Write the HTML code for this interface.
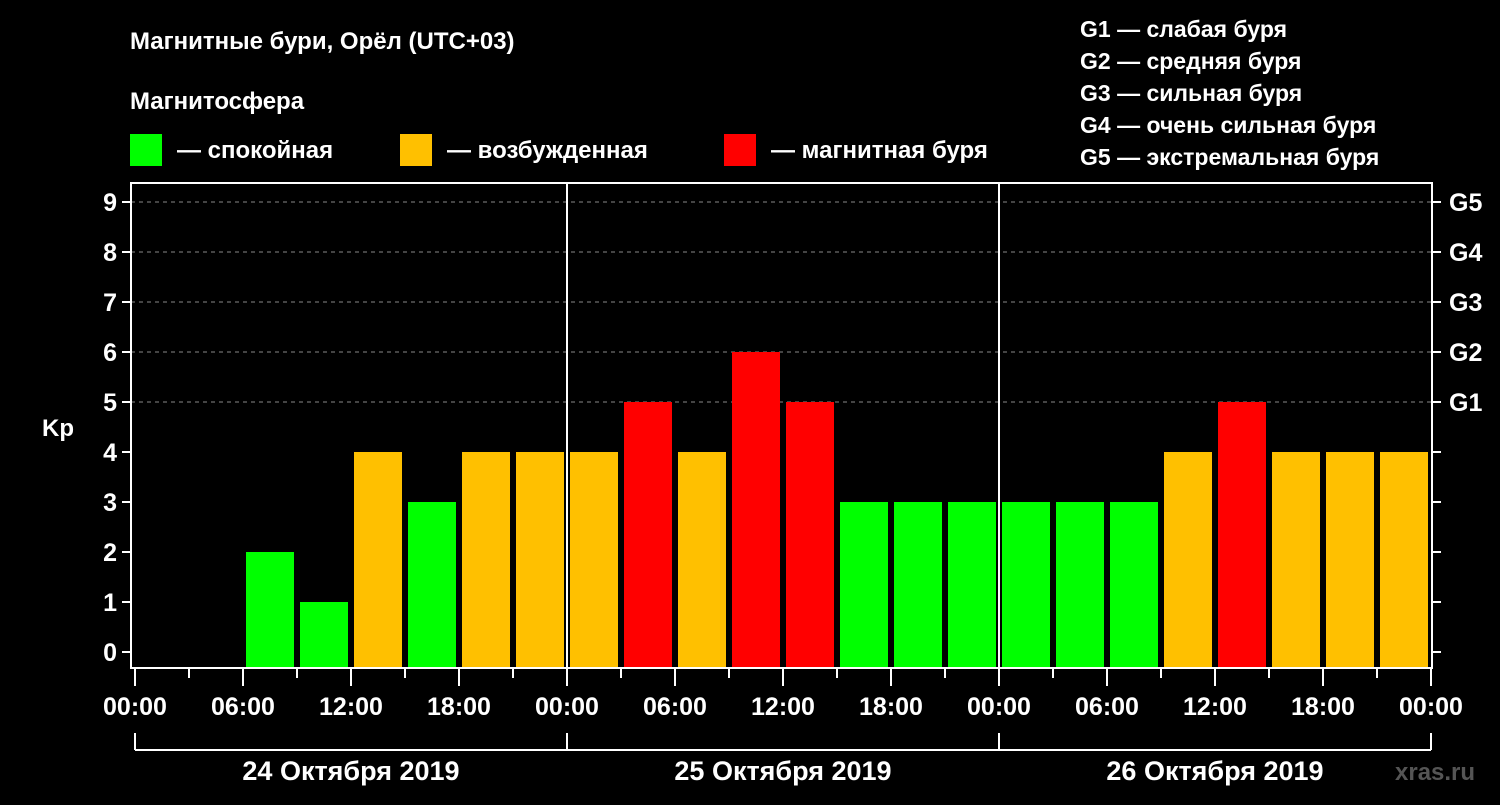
<!DOCTYPE html>
<html><head><meta charset="utf-8"><style>
html,body{margin:0;padding:0;background:#000;}
svg text{font-family:"Liberation Sans",sans-serif;font-weight:bold;fill:#fff;}
</style></head><body>
<svg id="chart" width="1500" height="800" viewBox="0 0 1500 800" xmlns="http://www.w3.org/2000/svg">
<rect width="1500" height="800" fill="#000"/>
<text x="130" y="49" font-size="24">Магнитные бури, Орёл (UTC+03)</text>
<text x="130" y="109" font-size="24">Магнитосфера</text>
<g><rect x="130" y="134" width="32" height="32" fill="#00ff00"/><text x="177" y="158" font-size="24">— спокойная</text></g>
<g><rect x="400" y="134" width="32" height="32" fill="#ffc000"/><text x="447" y="158" font-size="24">— возбужденная</text></g>
<g><rect x="724" y="134" width="32" height="32" fill="#ff0000"/><text x="771" y="158" font-size="24">— магнитная буря</text></g>
<g font-size="23">
<text x="1080" y="37">G1 — слабая буря</text>
<text x="1080" y="69">G2 — средняя буря</text>
<text x="1080" y="101">G3 — сильная буря</text>
<text x="1080" y="133">G4 — очень сильная буря</text>
<text x="1080" y="165">G5 — экстремальная буря</text>
</g>
<text x="42" y="436" font-size="24">Kp</text>
<text x="1395" y="780" font-size="24" fill="#555" style="fill:#555">xras.ru</text>
<g id="grid"></g><g id="bars"></g><g id="axes"></g>
</svg>
<script>
const kpValues = [null,null,2,1,4,3,4,4, 4,5,4,6,5,3,3,3, 3,3,3,4,5,4,4,4];
const yTicks = [0,1,2,3,4,5,6,7,8,9];
const gLabels = ["G1","G2","G3","G4","G5"];
const gLevels = [5,6,7,8,9];
const hourLabels = ["00:00","06:00","12:00","18:00","00:00","06:00","12:00","18:00","00:00","06:00","12:00","18:00","00:00"];
const dayLabels = ["24 Октября 2019","25 Октября 2019","26 Октября 2019"];

const NS="http://www.w3.org/2000/svg";
const X0=135, X1=1431, FL=131, FR=1432, FT=183, FB=668;
const slotW=(X1-X0)/kpValues.length;
const xs=i=>X0+i*slotW;
const ys=v=>652-v*50;
function mk(tag,attrs,parent){const e=document.createElementNS(NS,tag);for(const k in attrs)e.setAttribute(k,attrs[k]);parent.appendChild(e);return e;}
const grid=document.getElementById('grid'),bars=document.getElementById('bars'),axes=document.getElementById('axes');
yTicks.forEach(v=>{
  if(v>=5){const l=mk('line',{x1:FL,x2:FR,y1:ys(v),y2:ys(v),stroke:'#888','stroke-dasharray':'4,4','stroke-width':1},grid);
  
  }
  mk('line',{x1:FL-9,x2:FL,y1:ys(v),y2:ys(v),stroke:'#fff','stroke-width':2},axes);
  mk('line',{x1:FR,x2:FR+9,y1:ys(v),y2:ys(v),stroke:'#fff','stroke-width':2},axes);
  const t=mk('text',{x:FL-14,y:ys(v)+9,'font-size':25,'text-anchor':'end'},axes);t.textContent=v;
  
  
});
gLabels.forEach((g,i)=>{const t=mk('text',{x:1449,y:ys(gLevels[i])+9,'font-size':25},axes);t.textContent=g;
  
  });
kpValues.forEach((v,i)=>{
  if(v===null)return;
  const c=v<4?'#00ff00':(v<5?'#ffc000':'#ff0000');
  const r=mk('rect',{x:xs(i)+3,y:ys(v),width:slotW-6,height:FB-ys(v),fill:c},bars);
  
  
});
mk('rect',{x:FL,y:FT,width:FR-FL,height:FB-FT,fill:'none',stroke:'#fff','stroke-width':2},axes);
for(let d=1;d<dayLabels.length;d++){mk('line',{x1:xs(d*8),x2:xs(d*8),y1:FT,y2:FB,stroke:'#fff','stroke-width':2},axes);}
for(let i=0;i<=kpValues.length;i++){mk('line',{x1:xs(i),x2:xs(i),y1:FB,y2:i%2==0?686:678,stroke:'#fff','stroke-width':2},axes);}
hourLabels.forEach((h,i)=>{const t=mk('text',{x:xs(i*2),y:715,'font-size':25,'text-anchor':'middle'},axes);t.textContent=h;
  
  });
mk('line',{x1:X0,x2:X1,y1:750,y2:750,stroke:'#fff','stroke-width':2},axes);
for(let d=0;d<=dayLabels.length;d++){mk('line',{x1:xs(d*8),x2:xs(d*8),y1:733,y2:750,stroke:'#fff','stroke-width':2},axes);}
dayLabels.forEach((s,d)=>{const t=mk('text',{x:xs(d*8+4),y:780,'font-size':27,'text-anchor':'middle'},axes);t.textContent=s;
  
  });
</script>
</body></html>
